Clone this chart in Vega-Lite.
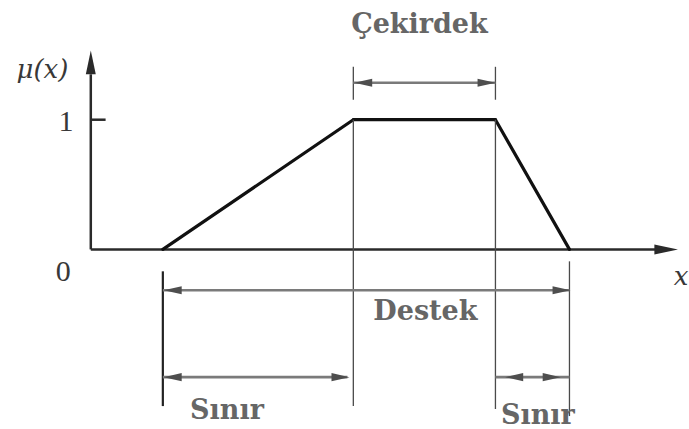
{
  "$schema": "https://vega.github.io/schema/vega-lite/v6.json",
  "width": 689,
  "height": 429,
  "autosize": {"type": "fit", "contains": "padding"},
  "padding": 0,
  "background": "white",
  "config": {"view": {"stroke": null}},
  "datasets": {
    "segs": [
      {"kind": "axis", "x": 0, "y": 0, "x2": 0, "y2": 1.35},
      {"kind": "axis", "x": 0, "y": 0, "x2": 5.74, "y2": 0},
      {"kind": "tick", "x": 0, "y": 1, "x2": 0.15, "y2": 1},
      {"kind": "trap", "x": 0.73, "y": 0, "x2": 2.66, "y2": 1},
      {"kind": "trap", "x": 2.66, "y": 1, "x2": 4.10, "y2": 1},
      {"kind": "trap", "x": 4.10, "y": 1, "x2": 4.85, "y2": 0},
      {"kind": "thin", "x": 2.66, "y": 1, "x2": 2.66, "y2": -1.208},
      {"kind": "thin", "x": 2.66, "y": 1.408, "x2": 2.66, "y2": 1.154},
      {"kind": "thin", "x": 4.10, "y": 1, "x2": 4.10, "y2": -1.231},
      {"kind": "thin", "x": 4.10, "y": 1.408, "x2": 4.10, "y2": 1.154},
      {"kind": "thick", "x": 0.73, "y": -0.169, "x2": 0.73, "y2": -1.208},
      {"kind": "thin", "x": 4.85, "y": -0.092, "x2": 4.85, "y2": -1.285},
      {"kind": "arrow", "x": 2.66, "y": 1.285, "x2": 4.10, "y2": 1.285},
      {"kind": "arrow", "x": 0.73, "y": -0.315, "x2": 4.85, "y2": -0.315},
      {"kind": "arrow", "x": 0.73, "y": -0.985, "x2": 2.60, "y2": -0.985},
      {"kind": "arrow", "x": 4.10, "y": -0.985, "x2": 4.85, "y2": -0.985}
    ],
    "heads": [
      {"kind": "axis", "dir": "up", "x": 0, "y": 1.442},
      {"kind": "axis", "dir": "right", "x": 5.83, "y": 0},
      {"kind": "arrow", "dir": "left", "x": 2.76, "y": 1.285},
      {"kind": "arrow", "dir": "right", "x": 4.01, "y": 1.285},
      {"kind": "arrow", "dir": "left", "x": 0.83, "y": -0.315},
      {"kind": "arrow", "dir": "right", "x": 4.77, "y": -0.315},
      {"kind": "arrow", "dir": "left", "x": 0.83, "y": -0.985},
      {"kind": "arrow", "dir": "right", "x": 2.53, "y": -0.985},
      {"kind": "arrow", "dir": "left", "x": 4.29, "y": -0.985},
      {"kind": "arrow", "dir": "right", "x": 4.67, "y": -0.985}
    ],
    "labels": [
      {"kind": "big", "text": "Çekirdek", "x": 3.33, "y": 1.669},
      {"kind": "big", "text": "Destek", "x": 3.39, "y": -0.546},
      {"kind": "big", "text": "Sınır", "x": 1.38, "y": -1.308},
      {"kind": "big", "text": "Sınır", "x": 4.53, "y": -1.346},
      {"kind": "num", "text": "1", "x": -0.25, "y": 0.985},
      {"kind": "num", "text": "0", "x": -0.28, "y": -0.177},
      {"kind": "ital", "text": "μ(x)", "x": -0.49, "y": 1.385},
      {"kind": "ital", "text": "x", "x": 5.98, "y": -0.215}
    ]
  },
  "encoding": {},
  "layer": [
    {
      "data": {"name": "segs"},
      "transform": [{"filter": "datum.kind === 'axis' || datum.kind === 'tick'"}],
      "mark": {"type": "rule", "color": "#2a2a2a", "strokeWidth": 2.5},
      "encoding": {
        "x": {"field": "x", "type": "quantitative", "scale": {"domain": [-0.92, 5.97], "nice": false, "zero": false}, "axis": null},
        "y": {"field": "y", "type": "quantitative", "scale": {"domain": [-1.377, 1.923], "nice": false, "zero": false}, "axis": null},
        "x2": {"field": "x2"},
        "y2": {"field": "y2"}
      }
    },
    {
      "data": {"name": "segs"},
      "transform": [{"filter": "datum.kind === 'trap'"}],
      "mark": {"type": "rule", "color": "#111111", "strokeWidth": 3.2, "strokeCap": "round"},
      "encoding": {
        "x": {"field": "x", "type": "quantitative", "scale": {"domain": [-0.92, 5.97], "nice": false, "zero": false}, "axis": null},
        "y": {"field": "y", "type": "quantitative", "scale": {"domain": [-1.377, 1.923], "nice": false, "zero": false}, "axis": null},
        "x2": {"field": "x2"},
        "y2": {"field": "y2"}
      }
    },
    {
      "data": {"name": "segs"},
      "transform": [{"filter": "datum.kind === 'thin'"}],
      "mark": {"type": "rule", "color": "#4a4a4a", "strokeWidth": 1.3},
      "encoding": {
        "x": {"field": "x", "type": "quantitative", "scale": {"domain": [-0.92, 5.97], "nice": false, "zero": false}, "axis": null},
        "y": {"field": "y", "type": "quantitative", "scale": {"domain": [-1.377, 1.923], "nice": false, "zero": false}, "axis": null},
        "x2": {"field": "x2"},
        "y2": {"field": "y2"}
      }
    },
    {
      "data": {"name": "segs"},
      "transform": [{"filter": "datum.kind === 'thick'"}],
      "mark": {"type": "rule", "color": "#222222", "strokeWidth": 2.2},
      "encoding": {
        "x": {"field": "x", "type": "quantitative", "scale": {"domain": [-0.92, 5.97], "nice": false, "zero": false}, "axis": null},
        "y": {"field": "y", "type": "quantitative", "scale": {"domain": [-1.377, 1.923], "nice": false, "zero": false}, "axis": null},
        "x2": {"field": "x2"},
        "y2": {"field": "y2"}
      }
    },
    {
      "data": {"name": "segs"},
      "transform": [{"filter": "datum.kind === 'arrow'"}],
      "mark": {"type": "rule", "color": "#7a7a7a", "strokeWidth": 2.6},
      "encoding": {
        "x": {"field": "x", "type": "quantitative", "scale": {"domain": [-0.92, 5.97], "nice": false, "zero": false}, "axis": null},
        "y": {"field": "y", "type": "quantitative", "scale": {"domain": [-1.377, 1.923], "nice": false, "zero": false}, "axis": null},
        "x2": {"field": "x2"},
        "y2": {"field": "y2"}
      }
    },
    {
      "data": {"name": "heads"},
      "transform": [{"filter": "datum.kind === 'axis' && datum.dir === 'up'"}],
      "mark": {"type": "point", "filled": true, "opacity": 1, "strokeWidth": 0, "color": "#2a2a2a", "size": 560, "shape": "M0,-1L-0.42,1L0.42,1Z"},
      "encoding": {
        "x": {"field": "x", "type": "quantitative", "scale": {"domain": [-0.92, 5.97], "nice": false, "zero": false}, "axis": null},
        "y": {"field": "y", "type": "quantitative", "scale": {"domain": [-1.377, 1.923], "nice": false, "zero": false}, "axis": null}
      }
    },
    {
      "data": {"name": "heads"},
      "transform": [{"filter": "datum.kind === 'axis' && datum.dir === 'right'"}],
      "mark": {"type": "point", "filled": true, "opacity": 1, "strokeWidth": 0, "color": "#2a2a2a", "size": 560, "shape": "M1,0L-1,-0.42L-1,0.42Z"},
      "encoding": {
        "x": {"field": "x", "type": "quantitative", "scale": {"domain": [-0.92, 5.97], "nice": false, "zero": false}, "axis": null},
        "y": {"field": "y", "type": "quantitative", "scale": {"domain": [-1.377, 1.923], "nice": false, "zero": false}, "axis": null}
      }
    },
    {
      "data": {"name": "heads"},
      "transform": [{"filter": "datum.kind === 'arrow' && datum.dir === 'right'"}],
      "mark": {"type": "point", "filled": true, "opacity": 1, "strokeWidth": 0, "color": "#4e4e4e", "size": 324, "shape": "M1,0L-1,-0.45L-1,0.45Z"},
      "encoding": {
        "x": {"field": "x", "type": "quantitative", "scale": {"domain": [-0.92, 5.97], "nice": false, "zero": false}, "axis": null},
        "y": {"field": "y", "type": "quantitative", "scale": {"domain": [-1.377, 1.923], "nice": false, "zero": false}, "axis": null}
      }
    },
    {
      "data": {"name": "heads"},
      "transform": [{"filter": "datum.kind === 'arrow' && datum.dir === 'left'"}],
      "mark": {"type": "point", "filled": true, "opacity": 1, "strokeWidth": 0, "color": "#4e4e4e", "size": 324, "shape": "M1,0L-1,-0.45L-1,0.45Z", "angle": 180},
      "encoding": {
        "x": {"field": "x", "type": "quantitative", "scale": {"domain": [-0.92, 5.97], "nice": false, "zero": false}, "axis": null},
        "y": {"field": "y", "type": "quantitative", "scale": {"domain": [-1.377, 1.923], "nice": false, "zero": false}, "axis": null}
      }
    },
    {
      "data": {"name": "labels"},
      "transform": [{"filter": "datum.kind === 'big'"}],
      "mark": {"type": "text", "font": "DejaVu Serif", "fontWeight": "bold", "fontSize": 27, "color": "#666666", "align": "center", "baseline": "alphabetic"},
      "encoding": {
        "x": {"field": "x", "type": "quantitative", "scale": {"domain": [-0.92, 5.97], "nice": false, "zero": false}, "axis": null},
        "y": {"field": "y", "type": "quantitative", "scale": {"domain": [-1.377, 1.923], "nice": false, "zero": false}, "axis": null},
        "text": {"field": "text"}
      }
    },
    {
      "data": {"name": "labels"},
      "transform": [{"filter": "datum.kind === 'num'"}],
      "mark": {"type": "text", "font": "Liberation Serif", "fontSize": 30, "color": "#383838", "align": "center", "baseline": "middle"},
      "encoding": {
        "x": {"field": "x", "type": "quantitative", "scale": {"domain": [-0.92, 5.97], "nice": false, "zero": false}, "axis": null},
        "y": {"field": "y", "type": "quantitative", "scale": {"domain": [-1.377, 1.923], "nice": false, "zero": false}, "axis": null},
        "text": {"field": "text"}
      }
    },
    {
      "data": {"name": "labels"},
      "transform": [{"filter": "datum.kind === 'ital'"}],
      "mark": {"type": "text", "font": "DejaVu Serif", "fontStyle": "italic", "fontSize": 26, "color": "#383838", "align": "center", "baseline": "middle"},
      "encoding": {
        "x": {"field": "x", "type": "quantitative", "scale": {"domain": [-0.92, 5.97], "nice": false, "zero": false}, "axis": null},
        "y": {"field": "y", "type": "quantitative", "scale": {"domain": [-1.377, 1.923], "nice": false, "zero": false}, "axis": null},
        "text": {"field": "text"}
      }
    }
  ]
}
